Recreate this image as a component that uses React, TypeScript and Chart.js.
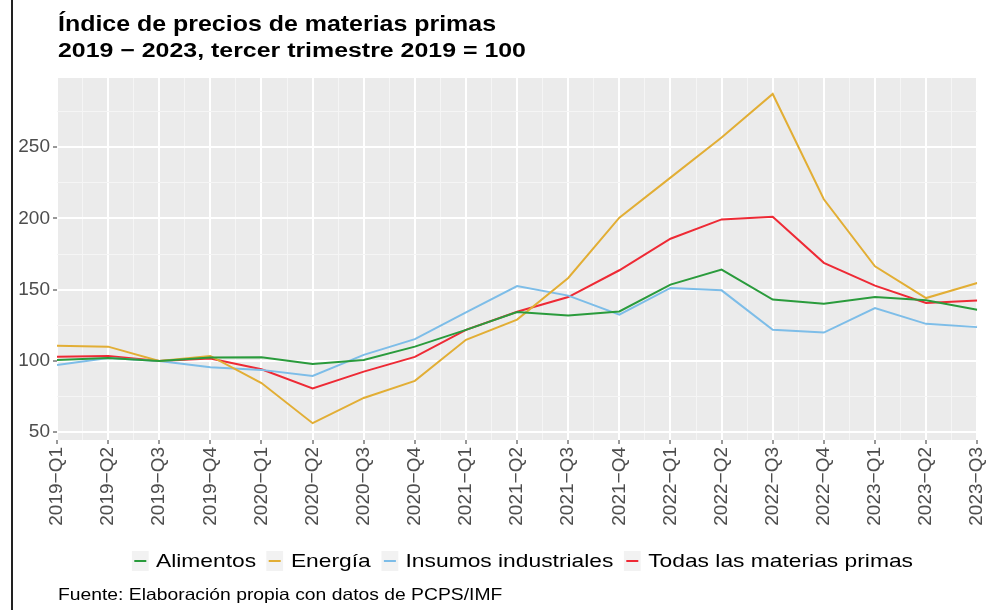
import React, { useEffect, useRef } from "react";
import { Chart, registerables } from "chart.js";

Chart.register(...registerables);

const quarters = [
  "2019−Q1", "2019−Q2", "2019−Q3", "2019−Q4",
  "2020−Q1", "2020−Q2", "2020−Q3", "2020−Q4",
  "2021−Q1", "2021−Q2", "2021−Q3", "2021−Q4",
  "2022−Q1", "2022−Q2", "2022−Q3", "2022−Q4",
  "2023−Q1", "2023−Q2", "2023−Q3",
];

const alimentos = [100.7, 102, 100, 102.3, 102.6, 97.9, 100.7, 110, 121.8, 134.3, 131.9, 134.7, 153.5, 164.1, 143, 140.1, 144.8, 142.5, 135.9];
const energia = [110.6, 110, 100, 103.5, 84.5, 56.3, 74, 86, 114.8, 129, 158.2, 200.5, 228.6, 256.8, 287.3, 213.4, 166.4, 144.1, 154.7];
const insumos = [97.2, 102, 100, 95.5, 93.7, 89.4, 104.2, 115.3, 134, 152.5, 145.8, 132.4, 151.2, 149.5, 121.8, 119.9, 137.1, 126, 123.7];
const todas = [103, 103.5, 100, 101.6, 94.1, 80.7, 92.5, 102.8, 121.8, 134.5, 144.8, 163.6, 185.7, 199.3, 201.2, 168.8, 152.8, 140.6, 142.3];

const seriesNames = ["Alimentos", "Energía", "Insumos industriales", "Todas las materias primas"];
const seriesColors = ["#2A9B3C", "#E2AE35", "#7DBDE8", "#EE2A35"];
const seriesValues = [alimentos, energia, insumos, todas];

const yMajorTicks = [50, 100, 150, 200, 250];

const titleText = "Índice de precios de materias primas";
const subtitleText = "2019 − 2023, tercer trimestre 2019 = 100";
const captionText = "Fuente: Elaboración propia con datos de PCPS/IMF";

const FONT = "'Liberation Sans', Arial, Helvetica, sans-serif";

const panelBg = {
  id: "panelBg",
  beforeDraw(chart: any) {
    const { ctx, chartArea } = chart;
    ctx.save();
    ctx.fillStyle = "#EBEBEB";
    ctx.fillRect(chartArea.left, chartArea.top, chartArea.right - chartArea.left, chartArea.bottom - chartArea.top);
    ctx.restore();
  },
};

export default function App() {
  const ref = useRef<HTMLCanvasElement | null>(null);

  useEffect(() => {
    if (!ref.current) return;
    const datasets = seriesNames.map((name, i) => ({
      label: name,
      data: seriesValues[i].map((v, j) => ({ x: j, y: v })),
      borderColor: seriesColors[i],
      backgroundColor: seriesColors[i],
      borderWidth: 2,
      pointRadius: 0,
      tension: 0,
      fill: false,
    }));
    const isInt = (v: number) => Math.abs(v - Math.round(v)) < 1e-6;
    const chart = new Chart(ref.current, {
      type: "line",
      data: { datasets },
      plugins: [panelBg],
      options: {
        animation: false,
        responsive: false,
        maintainAspectRatio: false,
        layout: { padding: { left: 0, right: 15, top: 78, bottom: 70 } },
        plugins: {
          legend: { display: false },
          tooltip: { enabled: false },
          title: { display: false },
        },
        scales: {
          x: {
            type: "linear",
            min: 0,
            max: quarters.length - 1,
            border: { display: false },
            grid: {
              color: (c: any) => (isInt(c.tick.value) ? "#FFFFFF" : "#F5F5F5"),
              lineWidth: (c: any) => (isInt(c.tick.value) ? 2 : 1),
              tickColor: (c: any) => (isInt(c.tick.value) ? "#333333" : "rgba(0,0,0,0)"),
              tickLength: 4,
              tickWidth: 1,
            },
            ticks: {
              stepSize: 0.5,
              maxTicksLimit: 200,
              autoSkip: false,
              minRotation: 90,
              maxRotation: 90,
              padding: 3,
              color: "#4D4D4D",
              font: { family: FONT, size: 19 },
              callback: (v: any) => (isInt(Number(v)) ? quarters[Math.round(Number(v))] : ""),
            },
            afterFit: (s: any) => {
              s.height = 100;
            },
          },
          y: {
            type: "linear",
            min: 44.5,
            max: 298.5,
            border: { display: false },
            grid: {
              color: (c: any) => (yMajorTicks.includes(c.tick.value) ? "#FFFFFF" : "#F5F5F5"),
              lineWidth: (c: any) => (yMajorTicks.includes(c.tick.value) ? 2 : 1),
              tickColor: (c: any) => (yMajorTicks.includes(c.tick.value) ? "#333333" : "rgba(0,0,0,0)"),
              tickLength: 4,
              tickWidth: 1,
            },
            ticks: {
              stepSize: 25,
              includeBounds: false,
              padding: 3,
              color: "#4D4D4D",
              font: { family: FONT, size: 19 },
              callback: (v: any) => (yMajorTicks.includes(Number(v)) ? String(v) : ""),
            },
            afterFit: (s: any) => {
              s.width = 57;
            },
          },
        },
      },
    } as any);
    return () => chart.destroy();
  }, []);

  return (
    <div style={{ position: "fixed", left: 0, top: 0, width: 1003, height: 610, background: "#FFFFFF", overflow: "hidden", fontFamily: FONT }}>
      <div style={{ position: "absolute", left: 11, top: 0, width: 2, height: 610, background: "#222" }} />
      <canvas ref={ref} width={1003} height={610} style={{ position: "absolute", left: 0, top: 0, width: 1003, height: 610 }} />
      <div style={{ position: "absolute", left: 58, top: 14, fontSize: 21.5, lineHeight: "21.5px", fontWeight: 700, color: "#000", whiteSpace: "nowrap", transform: "scaleX(1.16)", transformOrigin: "left" }}>
        {titleText}
      </div>
      <div style={{ position: "absolute", left: 58, top: 40, fontSize: 20, lineHeight: "20px", fontWeight: 700, color: "#000", whiteSpace: "nowrap", transform: "scaleX(1.245)", transformOrigin: "left" }}>
        {subtitleText}
      </div>
      <div style={{ position: "absolute", left: 57, width: 931, top: 549, height: 24, display: "flex", justifyContent: "center", alignItems: "center", transform: "scaleX(1.2)", transformOrigin: "center" }}>
        {seriesNames.map((name, i) => (
          <div key={name} style={{ display: "flex", alignItems: "center", marginRight: i < seriesNames.length - 1 ? 9 : 0 }}>
            <div style={{ width: 14, height: 20, background: "#F2F2F2", position: "relative", marginRight: 6 }}>
              <div style={{ position: "absolute", left: 2, right: 2, top: 9, height: 2, background: seriesColors[i] }} />
            </div>
            <span style={{ fontSize: 19, lineHeight: "20px", color: "#000", whiteSpace: "nowrap" }}>{name}</span>
          </div>
        ))}
      </div>
      <div style={{ position: "absolute", left: 58, top: 586, fontSize: 16.5, lineHeight: "16.5px", color: "#000", whiteSpace: "nowrap", transform: "scaleX(1.17)", transformOrigin: "left" }}>
        {captionText}
      </div>
    </div>
  );
}
